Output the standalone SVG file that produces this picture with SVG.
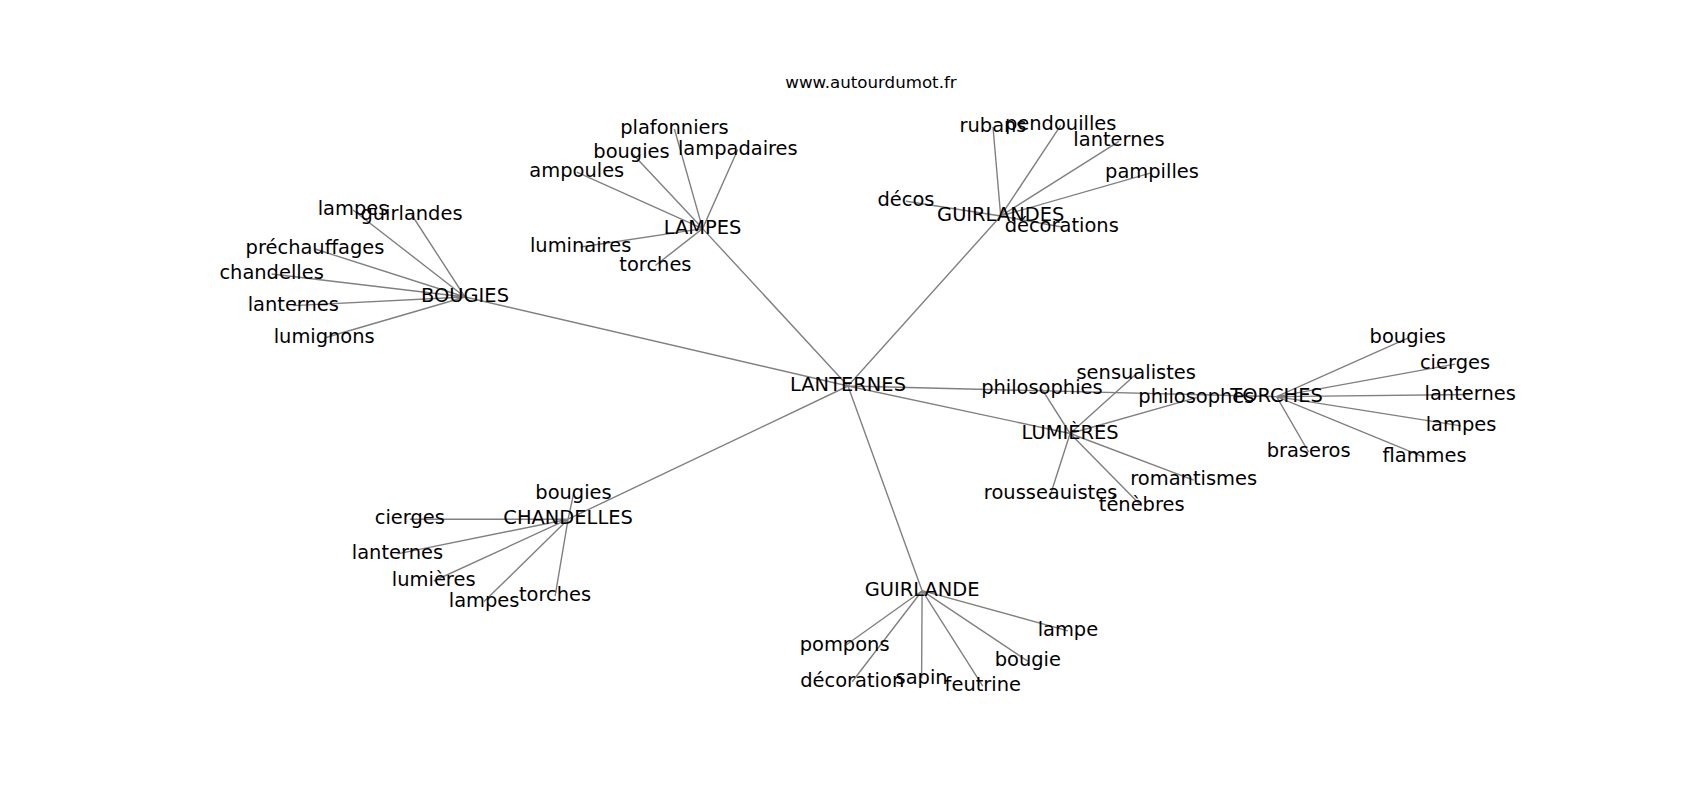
<svg xmlns="http://www.w3.org/2000/svg" width="1700" height="800" viewBox="0 0 1700 800">
<style>
.e{stroke:#808080;stroke-width:1.4;fill:none}
text{font-family:"DejaVu Sans",sans-serif;font-size:19.44px;fill:#000;text-anchor:middle}
.t{font-size:16.67px}
</style>
<rect width="1700" height="800" fill="#fff"/>
<text class="t" x="871" y="88">www.autourdumot.fr</text>
<g id="edges">
<path class="e" d="M848,386L465,297M848,386L702.6,228.6M848,386L1000.7,216M848,386L1276.6,396.6M848,386L1070.1,433.5M848,386L568.1,519.2M848,386L922.1,590.7"/>
<path class="e" d="M465,297L353,210M465,297L411.5,214.5M465,297L315,249M465,297L271.6,274M465,297L293.3,305.6M465,297L324.2,338"/>
<path class="e" d="M702.6,228.6L674.4,129M702.6,228.6L631.5,152.7M702.6,228.6L737.8,149.5M702.6,228.6L576.8,172.2M702.6,228.6L580.6,247M702.6,228.6L655.4,265.5"/>
<path class="e" d="M1000.7,216L993,127M1000.7,216L1060.7,125.3M1000.7,216L1119,141.3M1000.7,216L1152,172.7M1000.7,216L906,201.3M1000.7,216L1061.7,227"/>
<path class="e" d="M1276.6,396.6L1407.8,338.1M1276.6,396.6L1455,364.1M1276.6,396.6L1470.2,394.5M1276.6,396.6L1461,425.9M1276.6,396.6L1424.6,457.4M1276.6,396.6L1308.6,452"/>
<path class="e" d="M1070.1,433.5L1136.2,373.9M1070.1,433.5L1041.9,389.1M1070.1,433.5L1196.4,397.7M1070.1,433.5L1193.7,480.1M1070.1,433.5L1050.6,494.2M1070.1,433.5L1141.7,506.2"/>
<path class="e" d="M568.1,519.2L573.5,494.2M568.1,519.2L409.8,519.2M568.1,519.2L397.4,553.9M568.1,519.2L433.7,581M568.1,519.2L484.1,601.6M568.1,519.2L555.1,596.1"/>
<path class="e" d="M922.1,590.7L1067.9,630.8M922.1,590.7L844.6,646M922.1,590.7L1027.8,661.2M922.1,590.7L852.2,681.8M922.1,590.7L921.6,678.5M922.1,590.7L982.8,686.1"/>
</g>
<g id="n-lanternes"><text x="848" y="391">LANTERNES</text></g>
<g id="n-bougies"><text x="465" y="302">BOUGIES</text></g>
<g id="n-b-lampes"><text x="353" y="215">lampes</text></g>
<g id="n-b-guirlandes"><text x="411.5" y="219.5">guirlandes</text></g>
<g id="n-b-prechauffages"><text x="315" y="254">préchauffages</text></g>
<g id="n-b-chandelles"><text x="271.6" y="279">chandelles</text></g>
<g id="n-b-lanternes"><text x="293.3" y="310.6">lanternes</text></g>
<g id="n-b-lumignons"><text x="324.2" y="343">lumignons</text></g>
<g id="n-lampes"><text x="702.6" y="233.6">LAMPES</text></g>
<g id="n-l-plafonniers"><text x="674.4" y="134">plafonniers</text></g>
<g id="n-l-bougies"><text x="631.5" y="157.7">bougies</text></g>
<g id="n-l-lampadaires"><text x="737.8" y="154.5">lampadaires</text></g>
<g id="n-l-ampoules"><text x="576.8" y="177.2">ampoules</text></g>
<g id="n-l-luminaires"><text x="580.6" y="252">luminaires</text></g>
<g id="n-l-torches"><text x="655.4" y="270.5">torches</text></g>
<g id="n-guirlandes"><text x="1000.7" y="221">GUIRLANDES</text></g>
<g id="n-g-rubans"><text x="993" y="132">rubans</text></g>
<g id="n-g-pendouilles"><text x="1060.7" y="130.3">pendouilles</text></g>
<g id="n-g-lanternes"><text x="1119" y="146.3">lanternes</text></g>
<g id="n-g-pampilles"><text x="1152" y="177.7">pampilles</text></g>
<g id="n-g-decos"><text x="906" y="206.3">décos</text></g>
<g id="n-g-decorations"><text x="1061.7" y="232">décorations</text></g>
<g id="n-torches"><text x="1276.6" y="401.6">TORCHES</text></g>
<g id="n-t-bougies"><text x="1407.8" y="343.1">bougies</text></g>
<g id="n-t-cierges"><text x="1455" y="369.1">cierges</text></g>
<g id="n-t-lanternes"><text x="1470.2" y="399.5">lanternes</text></g>
<g id="n-t-lampes"><text x="1461" y="430.9">lampes</text></g>
<g id="n-t-flammes"><text x="1424.6" y="462.4">flammes</text></g>
<g id="n-t-braseros"><text x="1308.6" y="457">braseros</text></g>
<g id="n-lumieres"><text x="1070.1" y="438.5">LUMIÈRES</text></g>
<g id="n-u-sensualistes"><text x="1136.2" y="378.9">sensualistes</text></g>
<g id="n-u-philosophies"><text x="1041.9" y="394.1">philosophies</text></g>
<g id="n-u-philosophes"><text x="1196.4" y="402.7">philosophes</text></g>
<g id="n-u-romantismes"><text x="1193.7" y="485.1">romantismes</text></g>
<g id="n-u-rousseauistes"><text x="1050.6" y="499.2">rousseauistes</text></g>
<g id="n-u-tenebres"><text x="1141.7" y="511.2">ténèbres</text></g>
<g id="n-chandelles"><text x="568.1" y="524.2">CHANDELLES</text></g>
<g id="n-c-bougies"><text x="573.5" y="499.2">bougies</text></g>
<g id="n-c-cierges"><text x="409.8" y="524.2">cierges</text></g>
<g id="n-c-lanternes"><text x="397.4" y="558.9">lanternes</text></g>
<g id="n-c-lumieres"><text x="433.7" y="586">lumières</text></g>
<g id="n-c-lampes"><text x="484.1" y="606.6">lampes</text></g>
<g id="n-c-torches"><text x="555.1" y="601.1">torches</text></g>
<g id="n-guirlande"><text x="922.1" y="595.7">GUIRLANDE</text></g>
<g id="n-d-lampe"><text x="1067.9" y="635.8">lampe</text></g>
<g id="n-d-pompons"><text x="844.6" y="651">pompons</text></g>
<g id="n-d-bougie"><text x="1027.8" y="666.2">bougie</text></g>
<g id="n-d-decoration"><text x="852.2" y="686.8">décoration</text></g>
<g id="n-d-sapin"><text x="921.6" y="683.5">sapin</text></g>
<g id="n-d-feutrine"><text x="982.8" y="691.1">feutrine</text></g>
</svg>
